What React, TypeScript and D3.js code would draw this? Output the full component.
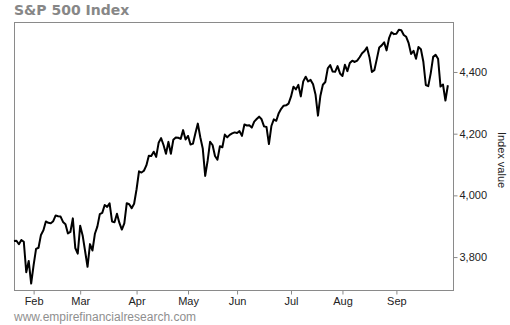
import React, { useEffect, useRef } from 'react';
import * as d3 from 'd3';

// S&P 500 daily closes, Jan 20 2021 -> Oct 1 2021 (one value per trading day)
const closes: number[] = [
  // Jan
  3851.85, 3853.07, 3841.47, 3855.36, 3849.62, 3750.77, 3787.38, 3714.24,
  // Feb
  3773.86, 3826.31, 3830.17, 3871.74, 3886.83, 3915.59, 3911.23, 3909.88, 3916.38, 3934.83,
  3932.59, 3931.33, 3913.97, 3906.71, 3876.5, 3881.37, 3925.43, 3829.34, 3811.15,
  // Mar
  3901.82, 3870.29, 3819.72, 3768.47, 3841.94, 3821.35, 3875.44, 3898.81, 3939.34, 3943.34,
  3968.94, 3962.71, 3974.12, 3915.46, 3913.1, 3940.59, 3910.52, 3889.14, 3909.52, 3974.54,
  3971.09, 3958.55, 3972.89,
  // Apr
  4019.87, 4077.91, 4073.94, 4079.95, 4097.17, 4128.8, 4127.99, 4141.59, 4124.66, 4170.42,
  4185.47, 4163.26, 4134.94, 4173.42, 4134.98, 4180.17, 4187.62, 4186.72, 4183.18, 4211.47,
  4181.17,
  // May
  4192.66, 4164.66, 4167.59, 4201.62, 4232.6, 4188.43, 4152.1, 4063.04, 4112.5, 4173.85,
  4163.29, 4127.83, 4115.68, 4159.12, 4155.86, 4197.05, 4188.13, 4195.99, 4200.88, 4204.11,
  // Jun
  4202.04, 4208.12, 4192.85, 4229.89, 4226.52, 4227.26, 4219.55, 4239.18, 4247.44, 4255.15,
  4246.59, 4223.7, 4221.86, 4166.45, 4224.79, 4246.44, 4241.84, 4266.49, 4280.7, 4290.61,
  4291.8, 4297.5,
  // Jul
  4319.94, 4352.34, 4343.54, 4358.13, 4320.82, 4369.55, 4384.63, 4369.21, 4374.3, 4360.03,
  4327.16, 4258.49, 4323.06, 4358.69, 4367.48, 4411.79, 4422.3, 4401.46, 4400.64, 4419.15,
  4395.26,
  // Aug
  4387.16, 4423.15, 4402.66, 4429.1, 4436.52, 4432.35, 4436.75, 4447.7, 4460.83, 4468.0,
  4479.71, 4448.08, 4400.27, 4405.8, 4441.67, 4479.53, 4486.23, 4496.19, 4470.0, 4509.37,
  4528.79, 4522.68,
  // Sep
  4524.09, 4536.95, 4535.43, 4520.03, 4514.07, 4493.28, 4458.58, 4468.73, 4443.05, 4480.7,
  4473.75, 4432.99, 4357.73, 4354.19, 4395.64, 4448.98, 4455.48, 4443.11, 4352.63, 4359.46,
  4307.54,
  // Oct
  4357.04,
];

// month labels sit on the first trading day of each month
const monthLabels = ['Feb', 'Mar', 'Apr', 'May', 'Jun', 'Jul', 'Aug', 'Sep'];
const monthStartIdx = [8, 27, 50, 71, 91, 113, 134, 156];

const yTicks = [3800, 4000, 4200, 4400];

const App = () => {
  const svgRef = useRef<SVGSVGElement>(null);

  useEffect(() => {
    const svg = d3.select(svgRef.current);
    svg.selectAll('*').remove();

    const left = 14, right = 454, top = 22, bottom = 291;

    const x = d3.scaleLinear().domain([0, 179.5]).range([left, right]);
    const y = d3.scaleLinear().domain([3690, 4562]).range([bottom, top]);

    // title
    svg.append('text')
      .attr('x', 14)
      .attr('y', 15)
      .attr('font-family', 'DejaVu Sans, Verdana, sans-serif')
      .attr('font-weight', 'bold')
      .attr('font-size', 14)
      .attr('fill', '#878787')
      .text('S&P 500 Index');

    // frame
    svg.append('rect')
      .attr('x', left + 0.5)
      .attr('y', top + 0.5)
      .attr('width', right - left - 1)
      .attr('height', bottom - top - 1)
      .attr('fill', 'none')
      .attr('stroke', '#8a8a8a')
      .attr('stroke-width', 1);

    // right axis
    const yAxis = d3.axisRight(y).tickValues(yTicks).tickSize(4).tickPadding(2)
      .tickFormat(d3.format(','));
    const ya = svg.append('g')
      .attr('transform', `translate(${right - 0.5},0)`)
      .call(yAxis);
    ya.select('.domain').remove();
    ya.selectAll('line').attr('stroke', '#8a8a8a');
    ya.selectAll('text')
      .attr('font-family', 'Liberation Sans, Arial, sans-serif')
      .attr('font-size', 11)
      .attr('fill', '#222');

    // bottom axis
    const xAxis = d3.axisBottom(x).tickValues(monthStartIdx).tickSize(4).tickPadding(3)
      .tickFormat((d, i) => monthLabels[i]);
    const xa = svg.append('g')
      .attr('transform', `translate(0,${bottom - 0.5})`)
      .call(xAxis);
    xa.select('.domain').remove();
    xa.selectAll('line').attr('stroke', '#8a8a8a');
    xa.selectAll('text')
      .attr('font-family', 'Liberation Sans, Arial, sans-serif')
      .attr('font-size', 11)
      .attr('fill', '#222');

    // axis title
    svg.append('text')
      .attr('transform', `translate(498,160) rotate(90)`)
      .attr('text-anchor', 'middle')
      .attr('font-family', 'Liberation Sans, Arial, sans-serif')
      .attr('font-size', 11)
      .attr('fill', '#222')
      .text('Index value');

    // line
    const line = d3.line<number>()
      .x((d, i) => x(i))
      .y(d => y(d));
    svg.append('path')
      .datum(closes)
      .attr('d', line)
      .attr('fill', 'none')
      .attr('stroke', '#000')
      .attr('stroke-width', 2)
      .attr('stroke-linejoin', 'round');

    // source
    svg.append('text')
      .attr('x', 14)
      .attr('y', 321)
      .attr('font-family', 'Liberation Sans, Arial, sans-serif')
      .attr('font-size', 12)
      .attr('fill', '#8f8f8f')
      .text('www.empirefinancialresearch.com');
  }, []);

  return (
    <svg ref={svgRef} width={510} height={325}
      style={{ position: 'absolute', left: 0, top: 0, background: '#fff' }} />
  );
};

export default App;
